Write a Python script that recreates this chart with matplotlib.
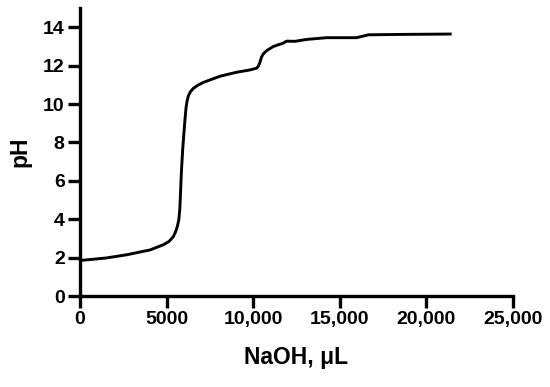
import matplotlib
matplotlib.use("Agg")
import matplotlib.pyplot as plt

plt.rcParams['font.family'] = ['Liberation Sans', 'DejaVu Sans']

naoh_ul = [0, 1500, 2700, 4040, 4810, 5150, 5390, 5520, 5620, 5700, 5760, 5800,
           5850, 5928, 6000, 6060, 6120, 6180, 6255, 6380, 6545, 6800, 7120,
           8080, 9045, 9815, 10200, 10300, 10390, 10480, 10585, 10800, 11160,
           11740, 11930, 12415, 13090, 14245, 15975, 16650, 18480, 21460]
ph = [1.85, 1.98, 2.15, 2.4, 2.67, 2.85, 3.1, 3.35, 3.63, 3.95, 4.5, 5.3,
      6.4, 7.64, 8.5, 9.2, 9.8, 10.15, 10.43, 10.65, 10.82, 10.98, 11.13,
      11.45, 11.66, 11.78, 11.87, 11.98, 12.18, 12.45, 12.62, 12.8, 13.0,
      13.18, 13.28, 13.27, 13.37, 13.46, 13.46, 13.61, 13.63, 13.65]

x_ticks = [0, 5000, 10000, 15000, 20000, 25000]
x_tick_labels = ["0", "5000", "10,000", "15,000", "20,000", "25,000"]
y_ticks = [0, 2, 4, 6, 8, 10, 12, 14]

fig = plt.figure(figsize=(5.5, 3.87), dpi=100)
ax = fig.add_axes([0.1455, 0.2351, 0.9327 - 0.1455, 0.979 - 0.2351])
ax.plot(naoh_ul, ph, color='black', lw=2.1, solid_joinstyle='round',
        solid_capstyle='butt')
ax.set_xlim(0, 25000)
ax.set_ylim(0, 15)
ax.set_xticks(x_ticks)
ax.set_xticklabels(x_tick_labels)
ax.set_yticks(y_ticks)
for s in ['top', 'right']:
    ax.spines[s].set_visible(False)
for s in ['left', 'bottom']:
    ax.spines[s].set_linewidth(2.4)
ax.tick_params(width=2.4, length=8.5, direction='out', labelsize=14, pad=2.5)
for lab in ax.get_xticklabels() + ax.get_yticklabels():
    lab.set_fontweight('bold')
ax.set_xlabel("NaOH, μL", fontsize=16.5, fontweight='bold', labelpad=13)
ax.set_ylabel("pH", fontsize=16.5, fontweight='bold', labelpad=8)
fig.savefig("out.png", dpi=100)
